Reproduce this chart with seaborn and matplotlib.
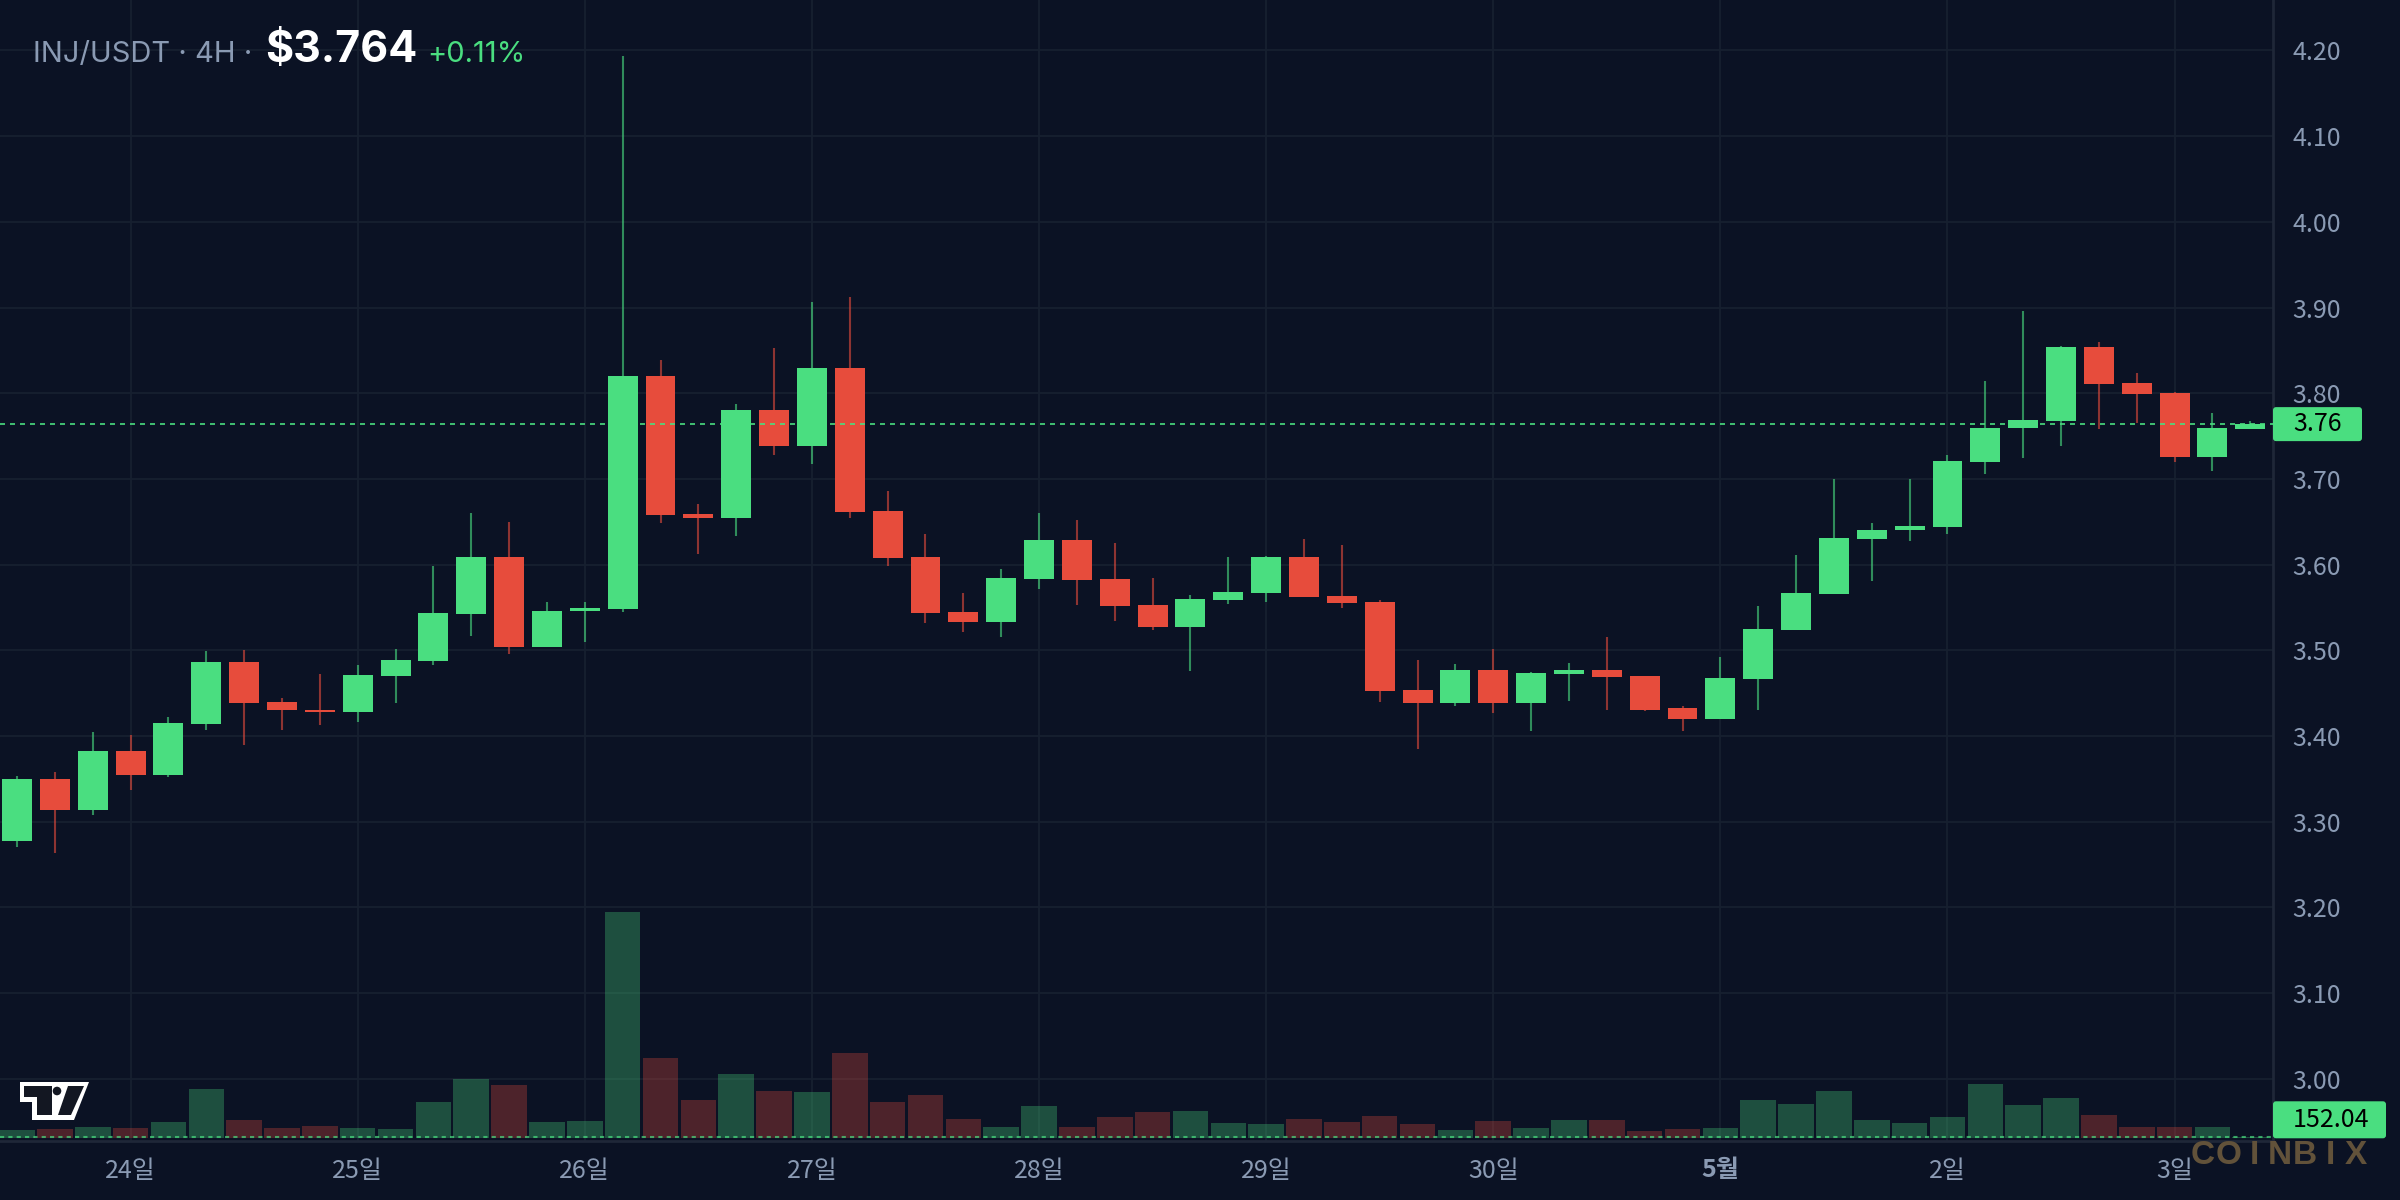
import numpy as np
import pandas as pd
import seaborn as sns
import matplotlib
matplotlib.use("Agg")
import matplotlib.pyplot as plt
import matplotlib.transforms as mtransforms
from matplotlib.patches import Polygon, Circle, FancyBboxPatch

# INJ/USDT 4H candles
opens = [3.278, 3.350, 3.314, 3.382, 3.355, 3.414, 3.486, 3.440, 3.431, 3.428,
         3.470, 3.488, 3.543, 3.609, 3.504, 3.546, 3.548, 3.820, 3.659, 3.654,
         3.781, 3.738, 3.830, 3.663, 3.609, 3.545, 3.533, 3.583, 3.629, 3.583,
         3.553, 3.527, 3.559, 3.567, 3.609, 3.563, 3.556, 3.454, 3.439, 3.477,
         3.439, 3.472, 3.477, 3.470, 3.433, 3.420, 3.467, 3.524, 3.566, 3.630,
         3.640, 3.644, 3.720, 3.759, 3.768, 3.854, 3.812, 3.800, 3.726, 3.758]
highs = [3.353, 3.358, 3.405, 3.401, 3.422, 3.499, 3.501, 3.445, 3.473, 3.483,
         3.502, 3.599, 3.660, 3.650, 3.557, 3.556, 4.193, 3.839, 3.671, 3.787,
         3.853, 3.907, 3.912, 3.686, 3.636, 3.567, 3.595, 3.660, 3.652, 3.625,
         3.585, 3.565, 3.609, 3.610, 3.630, 3.623, 3.559, 3.489, 3.484, 3.502,
         3.475, 3.485, 3.516, 3.470, 3.435, 3.492, 3.552, 3.611, 3.700, 3.649,
         3.700, 3.728, 3.814, 3.896, 3.855, 3.860, 3.824, 3.802, 3.777, 3.768]
lows = [3.270, 3.263, 3.308, 3.337, 3.352, 3.407, 3.390, 3.407, 3.413, 3.416,
        3.439, 3.483, 3.517, 3.496, 3.504, 3.510, 3.545, 3.649, 3.612, 3.633,
        3.728, 3.717, 3.654, 3.598, 3.532, 3.521, 3.516, 3.572, 3.553, 3.534,
        3.524, 3.476, 3.554, 3.556, 3.562, 3.549, 3.440, 3.385, 3.435, 3.427,
        3.406, 3.441, 3.430, 3.429, 3.406, 3.420, 3.431, 3.524, 3.566, 3.581,
        3.628, 3.636, 3.706, 3.725, 3.739, 3.758, 3.765, 3.720, 3.709, 3.758]
closes = [3.350, 3.314, 3.382, 3.355, 3.415, 3.486, 3.439, 3.430, 3.428, 3.471,
          3.489, 3.544, 3.609, 3.504, 3.546, 3.549, 3.820, 3.658, 3.654, 3.781,
          3.738, 3.830, 3.661, 3.608, 3.544, 3.533, 3.584, 3.629, 3.582, 3.552,
          3.527, 3.560, 3.568, 3.609, 3.562, 3.555, 3.453, 3.439, 3.477, 3.439,
          3.474, 3.477, 3.469, 3.431, 3.420, 3.468, 3.525, 3.567, 3.631, 3.640,
          3.645, 3.721, 3.760, 3.769, 3.854, 3.811, 3.799, 3.726, 3.760, 3.764]
volumes = [950, 1060, 1290, 1180, 1860, 5620, 2090, 1180, 1410, 1180,
           1060, 4140, 6760, 6080, 1860, 1980, 25800, 9160, 4370, 7330,
           5400, 5280, 9730, 4140, 4940, 2200, 1290, 3690, 1290, 2430,
           3000, 3120, 1750, 1630, 2200, 1860, 2550, 1630, 950, 1980,
           1180, 2090, 2090, 840, 1060, 1180, 4370, 3910, 5400, 2090,
           1750, 2430, 6190, 3800, 4600, 2660, 1290, 1290, 1290, 152.04]

day_labels = ["24일", "25일", "26일", "27일", "28일", "29일", "30일", "5월", "2일", "3일"]
day_candles = [3, 9, 15, 21, 27, 33, 39, 45, 51, 57]
price_ticks = [3.00, 3.10, 3.20, 3.30, 3.40, 3.50, 3.60, 3.70, 3.80, 3.90, 4.00, 4.10, 4.20]
last_price = 3.764
last_volume = 152.04
change_pct = 0.11

BG = "#0b1224"
GRID = "#172030"
AXLINE = "#1f2738"
TXT = "#8a9ab3"
UP = "#4ade80"
DOWN = "#e74c3c"

sns.set_theme(style="dark", rc={"axes.facecolor": BG, "figure.facecolor": BG})
plt.rcParams["font.family"] = ["Noto Sans CJK KR", "DejaVu Sans"]

W, H = 2400, 1200
fig = plt.figure(figsize=(24, 12), dpi=100)
rect = [0, 1 - 1141 / H, 2273 / W, 1141 / H]

idx = np.arange(len(opens))
o = np.array(opens)
c = np.array(closes)
up = c >= o

# price pane
ax = fig.add_axes(rect)
ax.set_facecolor(BG)
ax.vlines(idx, lows, highs, colors=[UP if u else DOWN for u in up], alpha=0.6, lw=1.5, zorder=2)
body_low = np.minimum(o, c)
body_h = np.maximum(np.abs(c - o), 0.003)
ax.bar(idx, body_h, bottom=body_low, width=0.79, color=[UP if u else DOWN for u in up],
       linewidth=0, zorder=3)
ax.axhline(last_price, color=UP, lw=1.2, ls=(0, (3, 3)), zorder=4)

ax.set_xlim(-0.45, 59.6)
ax.set_ylim(2.9275, 4.2589)
ax.set_yticks(price_ticks)
ax.set_yticklabels([f"{t:.2f}" for t in price_ticks])
ax.yaxis.tick_right()
ax.set_xticks(day_candles)
ax.set_xticklabels(day_labels)
ax.grid(True, color=GRID, lw=1.3)
ax.tick_params(axis="y", length=0, pad=14, labelsize=18, labelcolor=TXT, right=False, labelright=True)
ax.tick_params(axis="x", length=0, pad=12, labelsize=18, labelcolor=TXT)
for lab in ax.get_xticklabels():
    if lab.get_text() == "5월":
        lab.set_fontweight("bold")
for s in ["top", "left"]:
    ax.spines[s].set_visible(False)
for s in ["right", "bottom"]:
    ax.spines[s].set_color(AXLINE)
    ax.spines[s].set_linewidth(2)

# volume pane, on top of the price grid
ax_v = fig.add_axes(rect)
ax_v.patch.set_alpha(0)
vol_df = pd.DataFrame({"idx": idx, "volume": volumes,
                       "dir": np.where(up, "up", "down")})
sns.barplot(data=vol_df, x="idx", y="volume", hue="dir", palette={"up": UP, "down": DOWN},
            native_scale=True, dodge=False, width=0.94, alpha=0.3, saturation=1,
            errorbar=None, legend=False, linewidth=0, ax=ax_v)
ax_v.axhline(last_volume, color=UP, lw=1.5, ls=(0, (2, 2)), alpha=0.7)
ax_v.set_xlim(-0.45, 59.6)
ax_v.set_ylim(-308, 129766)
ax_v.set_xticks([])
ax_v.set_yticks([])
ax_v.set_xlabel("")
ax_v.set_ylabel("")
ax_v.grid(False)
for s in ax_v.spines.values():
    s.set_visible(False)

ident = mtransforms.IdentityTransform()

# last price / last volume tags on the right axis
fig.canvas.draw()
py = ax.transData.transform((0, last_price))[1]
fig.patches.append(FancyBboxPatch((2273, py - 17), 89, 34, boxstyle="round,pad=0,rounding_size=3",
                                  fc=UP, ec="none", transform=ident, figure=fig))
fig.text(2293 / W, py / H, f"{last_price:.2f}", color="black", fontsize=18, va="center", ha="left")
vy = ax_v.transData.transform((0, 0))[1]
fig.patches.append(FancyBboxPatch((2273, vy), 113, 37, boxstyle="round,pad=0,rounding_size=3",
                                  fc=UP, ec="none", transform=ident, figure=fig))
fig.text(2293 / W, (vy + 18.5) / H, f"{last_volume:.2f}", color="black", fontsize=18, va="center", ha="left")

# header
title_font = ["Inter", "DejaVu Sans"]
fig.text(33 / W, 1 - 62 / H, "INJ/USDT · 4H ·", color=TXT, fontsize=21, family=title_font, va="baseline")
fig.text(265 / W, 1 - 62 / H, f"${last_price:.3f}", color="white", fontsize=31, fontweight="bold",
         family=title_font, va="baseline")
fig.text(427 / W, 1 - 62 / H, f"+{change_pct:.2f}%", color=UP, fontsize=21, family=title_font, va="baseline")

# watermark
for i, ch in enumerate("COINBIX"):
    fig.text((2203 + i * 25.5) / W, 1 - 1156 / H, ch, color="#62523a", fontsize=24, fontweight="bold",
             family=["Liberation Sans", "DejaVu Sans"], ha="center", va="center")

# TradingView logo
def px(pts):
    return [(x, H - y) for x, y in pts]

fig.patches.append(Polygon(px([(20, 1082), (89, 1082), (74, 1120), (32, 1120), (32, 1102), (20, 1102)]),
                           closed=True, fc="white", ec="none", transform=ident, figure=fig))
fig.patches.append(Polygon(px([(24, 1086), (52, 1086), (52, 1115), (37, 1115), (37, 1097), (24, 1097)]),
                           closed=True, fc="#131722", ec="none", transform=ident, figure=fig))
fig.patches.append(Circle((57, H - 1091), 4.3, fc="#131722", ec="none", transform=ident, figure=fig))
fig.patches.append(Polygon(px([(68, 1086), (84, 1086), (71, 1115), (58, 1115)]),
                           closed=True, fc="#131722", ec="none", transform=ident, figure=fig))

fig.savefig("out.png", dpi=100, facecolor=BG)
